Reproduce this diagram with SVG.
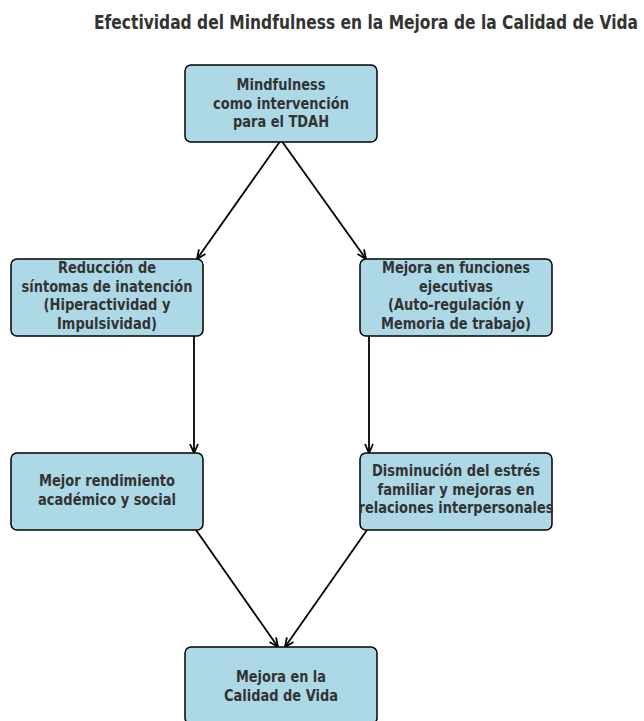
<svg xmlns="http://www.w3.org/2000/svg" width="644" height="721" viewBox="0 0 644 721">
<defs>
<style>
.box{fill:#ADD8E6;stroke:#000;stroke-width:1.5}
.t{font-family:"DejaVu Sans",sans-serif;font-weight:bold;font-size:16px;fill:#333;text-anchor:middle}
.title{font-family:"DejaVu Sans",sans-serif;font-weight:bold;font-size:19px;fill:#333;text-anchor:middle}
.c{stroke:#000;stroke-width:1.8;fill:none;marker-end:url(#a)}
</style>
<marker id="a" viewBox="0 0 10 10" refX="10" refY="5" markerWidth="10" markerHeight="10" markerUnits="userSpaceOnUse" orient="auto">
<path d="M1,1 L10,5 L1,9" fill="none" stroke="#000" stroke-width="1.8"/>
</marker>
</defs>
<rect width="644" height="721" fill="#fff"/>
<text class="title" x="366" y="29" textLength="544" lengthAdjust="spacingAndGlyphs">Efectividad del Mindfulness en la Mejora de la Calidad de Vida</text>
<g id="connectors">
<line class="c" x1="281" y1="140" x2="197" y2="259"/>
<line class="c" x1="281" y1="140" x2="366" y2="259"/>
<line class="c" x1="194" y1="336" x2="194" y2="453"/>
<line class="c" x1="369" y1="336" x2="369" y2="453"/>
<line class="c" x1="196" y1="530" x2="278" y2="647"/>
<line class="c" x1="367" y1="530" x2="285" y2="647"/>
</g>
<g id="n1">
<rect class="box" x="185" y="65" width="192" height="77" rx="6"/>
<text class="t" x="281" y="90" textLength="89" lengthAdjust="spacingAndGlyphs">Mindfulness</text>
<text class="t" x="281" y="108.5" textLength="136" lengthAdjust="spacingAndGlyphs">como intervención</text>
<text class="t" x="281" y="127" textLength="96" lengthAdjust="spacingAndGlyphs">para el TDAH</text>
</g>
<g id="n2">
<rect class="box" x="11" y="259" width="192" height="77" rx="6"/>
<text class="t" x="107" y="273" textLength="98" lengthAdjust="spacingAndGlyphs">Reducción de</text>
<text class="t" x="107" y="291.5" textLength="171" lengthAdjust="spacingAndGlyphs">síntomas de inatención</text>
<text class="t" x="107" y="310" textLength="127" lengthAdjust="spacingAndGlyphs">(Hiperactividad y</text>
<text class="t" x="107" y="328.5" textLength="100" lengthAdjust="spacingAndGlyphs">Impulsividad)</text>
</g>
<g id="n3">
<rect class="box" x="360" y="259" width="192" height="77" rx="6"/>
<text class="t" x="456" y="273" textLength="148" lengthAdjust="spacingAndGlyphs">Mejora en funciones</text>
<text class="t" x="456" y="291.5" textLength="74" lengthAdjust="spacingAndGlyphs">ejecutivas</text>
<text class="t" x="456" y="310" textLength="136" lengthAdjust="spacingAndGlyphs">(Auto-regulación y</text>
<text class="t" x="456" y="328.5" textLength="150" lengthAdjust="spacingAndGlyphs">Memoria de trabajo)</text>
</g>
<g id="n4">
<rect class="box" x="11" y="453" width="192" height="77" rx="6"/>
<text class="t" x="107" y="486" textLength="136" lengthAdjust="spacingAndGlyphs">Mejor rendimiento</text>
<text class="t" x="107" y="504.5" textLength="138" lengthAdjust="spacingAndGlyphs">académico y social</text>
</g>
<g id="n5">
<rect class="box" x="360" y="453" width="192" height="77" rx="6"/>
<text class="t" x="456" y="476" textLength="168" lengthAdjust="spacingAndGlyphs">Disminución del estrés</text>
<text class="t" x="456" y="494.5" textLength="157" lengthAdjust="spacingAndGlyphs">familiar y mejoras en</text>
<text class="t" x="456" y="513" textLength="195" lengthAdjust="spacingAndGlyphs">relaciones interpersonales</text>
</g>
<g id="n6">
<rect class="box" x="185" y="647" width="192" height="77" rx="6"/>
<text class="t" x="281" y="682" textLength="90" lengthAdjust="spacingAndGlyphs">Mejora en la</text>
<text class="t" x="281" y="700.5" textLength="114" lengthAdjust="spacingAndGlyphs">Calidad de Vida</text>
</g>
</svg>
